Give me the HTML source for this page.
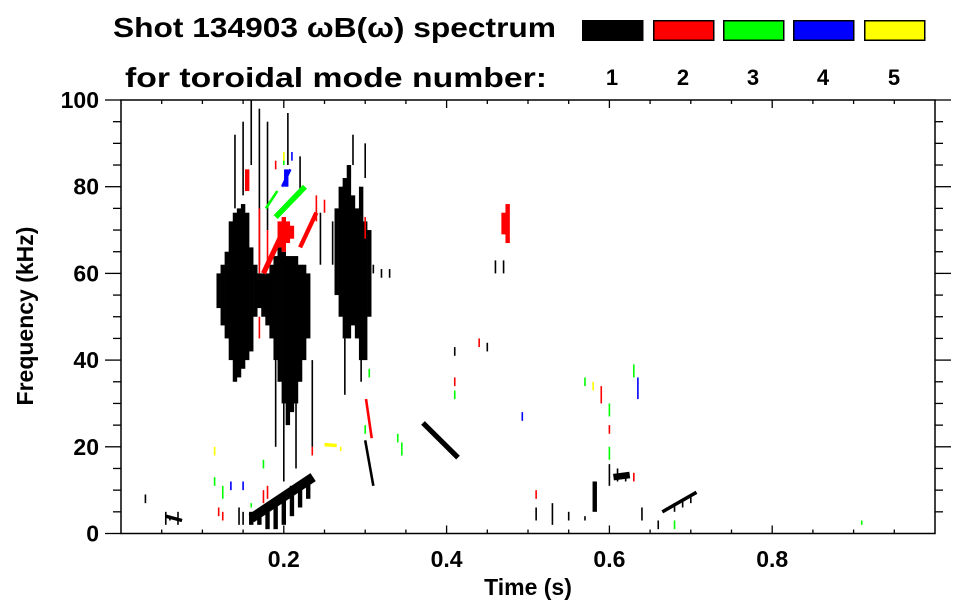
<!DOCTYPE html>
<html><head><meta charset="utf-8"><style>
html,body{margin:0;padding:0;background:#fff;}
svg{display:block;font-family:"Liberation Sans",sans-serif;font-weight:bold;}
</style></head><body>
<svg id="chart" width="963" height="615" viewBox="0 0 963 615">
<text x="113" y="37" font-size="28" textLength="443" lengthAdjust="spacingAndGlyphs">Shot 134903 ωB(ω) spectrum</text>
<text x="125" y="87" font-size="28" textLength="422" lengthAdjust="spacingAndGlyphs">for toroidal mode number:</text>
<g id="legend"></g>
<g id="marks"></g>
<g id="axes"></g>
<text x="528" y="595" font-size="23" text-anchor="middle">Time (s)</text>
<text transform="translate(33,316) rotate(-90)" font-size="23" text-anchor="middle">Frequency (kHz)</text>
</svg>
<script>
// ---- data ----
const modeNumbers = [1,2,3,4,5];
const modeColors = ["#000000","#ff0000","#00ff00","#0000ff","#ffff00"];
const xTicks = [0.2,0.4,0.6,0.8];
const xTickLabels = ["0.2","0.4","0.6","0.8"];
const yTicks = [0,20,40,60,80,100];
const yTickLabels = ["0","20","40","60","80","100"];
// dense columns: [mode, time, fLow, fHigh]
const columns = [
 [1,0.120,52,60],[1,0.125,48,62],[1,0.130,45,65],[1,0.135,40,72],[1,0.140,35,74],[1,0.145,36,75],
 [1,0.150,38,76],[1,0.155,40,74],[1,0.160,42,66],[1,0.165,50,62],[1,0.170,52,60],[1,0.175,50,60],
 [1,0.180,48,60],[1,0.185,45,62],[1,0.190,40,64],[1,0.195,35,66],[1,0.200,30,65],[1,0.205,25,64],
 [1,0.210,28,64],[1,0.215,30,64],[1,0.220,35,62],[1,0.225,40,62],[1,0.230,45,60],
 [1,0.265,55,75],[1,0.270,50,80],[1,0.275,45,82],[1,0.280,45,85],[1,0.285,48,78],[1,0.290,45,75],
 [1,0.295,40,80],[1,0.300,40,72],[1,0.305,50,70],
 [1,0.160,2,5],[1,0.170,2,5],[1,0.180,1,5],[1,0.190,1,7],[1,0.200,2,9],[1,0.210,4,11],[1,0.220,6,12],[1,0.230,8,13],
 [1,0.582,5,12],
 [2,0.195,66,72],[2,0.200,65,73],[2,0.205,67,72],[2,0.210,68,71],[2,0.155,79,84],[2,0.475,67,76],[2,0.470,69,74],
 [4,0.203,80,84]
];
// thin streaks: [mode, time, fLow, fHigh]
const streaks = [
 [1,0.140,75,92],[1,0.150,78,95],[1,0.160,85,100],[1,0.170,62,98],[1,0.180,70,95],[1,0.190,20,40],[1,0.200,12,30],
 [1,0.205,85,97],[1,0.215,15,30],[1,0.220,78,87],[1,0.235,20,40],[1,0.245,62,74],[1,0.260,62,72],
 [1,0.275,32,45],[1,0.285,85,92],[1,0.295,35,45],[1,0.300,82,90],[1,0.310,60,62],[1,0.320,59,61],[1,0.330,59,61],
 [1,0.460,60,63],[1,0.470,60,63],[1,0.030,7,9],[1,0.055,2,5],[1,0.060,3,4],[1,0.070,2,5],[1,0.145,2,6],[1,0.150,2,5],
 [1,0.510,3,6],[1,0.530,2,7],[1,0.550,3,5],[1,0.570,3,4],[1,0.600,11,16],[1,0.610,12,15],[1,0.620,12,14],
 [1,0.640,3,6],[1,0.660,1,3],[1,0.680,5,7],[1,0.690,6,8],[1,0.700,7,9],[1,0.410,41,43],[1,0.450,42,44],
 [2,0.170,60,75],[2,0.180,62,70],[2,0.240,72,78],[2,0.250,74,77],[2,0.300,68,73],[2,0.180,8,11],[2,0.175,7,10],
 [2,0.120,4,6],[2,0.125,3,5],[2,0.170,45,50],[2,0.235,18,20],[2,0.410,34,36],[2,0.600,23,25],[2,0.590,30,34],
 [2,0.630,12,14],[2,0.190,84,86],[2,0.440,43,45],[2,0.510,8,10],
 [3,0.115,11,13],[3,0.125,8,11],[3,0.160,6,7],[3,0.175,15,17],[3,0.305,36,38],[3,0.300,23,25],[3,0.340,21,23],
 [3,0.345,18,21],[3,0.410,31,33],[3,0.570,34,36],[3,0.630,36,39],[3,0.600,17,20],[3,0.680,1,3],[3,0.910,2,3],
 [3,0.200,85,88],[3,0.600,27,30],
 [4,0.135,10,12],[4,0.150,10,12],[4,0.493,26,28],[4,0.635,31,36],[4,0.210,86,88],
 [5,0.115,18,20],[5,0.200,86,88],[5,0.580,33,35],[5,0.270,19,20]
];
// sweeping features: [mode, t0, f0, t1, f1, thicknessKHz]
const sweeps = [
 [1,0.160,3.5,0.236,13,2.2],[1,0.300,21.5,0.310,11,0.6],[1,0.371,25.5,0.414,17.5,1.2],[1,0.665,5,0.707,9.5,0.8],
 [1,0.055,4,0.075,3,0.8],[1,0.605,13,0.625,13.5,1.5],
 [2,0.301,31,0.308,22,0.6],[2,0.175,60,0.200,70,1.2],[2,0.220,66,0.240,74,1],
 [3,0.190,73,0.226,80,1.3],[3,0.178,75,0.192,79,0.6],
 [4,0.198,80,0.208,84,0.6],
 [5,0.250,20.5,0.265,20.3,0.8]
];
// ---- scales ----
const X0=121, X1=935, Y0=533.5, Y1=100;
const tMin=0, tMax=1.0, fMin=0, fMax=100;
const xs = t => X0 + (t - tMin) / (tMax - tMin) * (X1 - X0);
const ys = f => Y0 - (f - fMin) / (fMax - fMin) * (Y0 - Y1);
const NS="http://www.w3.org/2000/svg";
function mk(tag, attrs, parent){const e=document.createElementNS(NS,tag);for(const k in attrs)e.setAttribute(k,attrs[k]);parent.appendChild(e);return e;}
const colorOf = m => modeColors[modeNumbers.indexOf(m)];
const marks=document.getElementById('marks');
columns.forEach(c=>{
  const r=mk('rect',{x:xs(c[1])-2.2,y:ys(c[3]),width:4.4,height:ys(c[2])-ys(c[3]),fill:colorOf(c[0])},marks);
  
  
});
streaks.forEach(s=>{
  const r=mk('rect',{x:xs(s[1])-0.8,y:ys(s[3]),width:1.6,height:Math.max(2,ys(s[2])-ys(s[3])),fill:colorOf(s[0])},marks);
  
  
});
sweeps.forEach(s=>{
  const l=mk('line',{x1:xs(s[1]),y1:ys(s[2]),x2:xs(s[3]),y2:ys(s[4]),stroke:colorOf(s[0]),'stroke-width':(ys(0)-ys(s[5]))},marks);
  
  
});
// ---- axes ----
const ax=document.getElementById('axes');
mk('rect',{x:X0,y:Y1,width:X1-X0,height:Y0-Y1,fill:'none',stroke:'#000','stroke-width':1.5},ax);
for(let t=0.05;t<1.0;t+=0.05){
  const major=xTicks.some(v=>Math.abs(v-t)<1e-6);
  const L=major?8:4;
  mk('line',{x1:xs(t),y1:Y0,x2:xs(t),y2:Y0-L,stroke:'#000','stroke-width':1.3},ax);
  mk('line',{x1:xs(t),y1:Y1,x2:xs(t),y2:Y1+L,stroke:'#000','stroke-width':1.3},ax);
}
xTicks.forEach((t,i)=>{
  const tx=mk('text',{x:xs(t),y:567,'font-size':23,'text-anchor':'middle'},ax);
  tx.textContent=xTickLabels[i];
  
  
});
for(let f=5;f<100;f+=5){
  const major=f%20===0;
  const L=major?16:8;
  mk('line',{x1:X0,y1:ys(f),x2:X0-L,y2:ys(f),stroke:'#000','stroke-width':1.3},ax);
  mk('line',{x1:X1,y1:ys(f),x2:X1+L,y2:ys(f),stroke:'#000','stroke-width':1.3},ax);
}
mk('line',{x1:X0,y1:Y1,x2:X0-16,y2:Y1,stroke:'#000','stroke-width':1.3},ax);
mk('line',{x1:X1,y1:Y1,x2:X1+16,y2:Y1,stroke:'#000','stroke-width':1.3},ax);
mk('line',{x1:X0,y1:Y0,x2:X0-16,y2:Y0,stroke:'#000','stroke-width':1.3},ax);
yTicks.forEach((f,i)=>{
  const tx=mk('text',{x:99,y:ys(f)+8,'font-size':23,'text-anchor':'end'},ax);
  tx.textContent=yTickLabels[i];
  
  
});
// ---- legend ----
const lg=document.getElementById('legend');
const legendX=[582,653,723,793,864];
modeNumbers.forEach((m,i)=>{
  const r=mk('rect',{x:legendX[i]+0.75,y:20.75,width:60,height:19.5,fill:modeColors[i],stroke:'#000','stroke-width':1.5},lg);
  
  
  const tx=mk('text',{x:legendX[i]+30,y:85,'font-size':22,'text-anchor':'middle'},lg);
  tx.textContent=String(m);
  
  
});
</script>
</body></html>
